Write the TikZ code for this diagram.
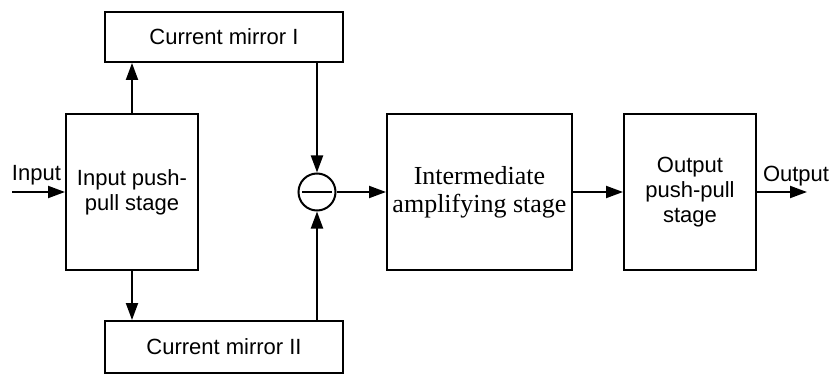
\documentclass[tikz,border=0pt]{standalone}
\usepackage{fontspec}
\setmainfont{Liberation Sans}
\newfontfamily\serifface{Liberation Serif}
\usetikzlibrary{arrows.meta}

\begin{document}
\begin{tikzpicture}[x=1pt, y=-1pt, line width=2pt,
  >={Triangle[length=17pt,width=12pt]},
  blk/.style={draw, line width=2pt, inner sep=0pt, align=center,
    font=\fontsize{22}{25}\selectfont},
  serifblk/.style={blk, font=\serifface\fontsize{26}{28}\selectfont},
  lbl/.style={inner sep=0pt, anchor=base west, font=\fontsize{22}{25}\selectfont}]
\useasboundingbox (0,0) rectangle (832,374);

% blocks
\node[blk, minimum width=238pt, minimum height=50pt] (cm1) at (224,37) {Current mirror I};
\node[blk, minimum width=132pt, minimum height=156pt] (inp) at (132,192) {Input push-\\pull stage};
\node[blk, minimum width=238pt, minimum height=52pt] (cm2) at (224,347) {Current mirror II};
\node[serifblk, minimum width=185pt, minimum height=155pt] (mid) at (479.5,192) {Intermediate\\amplifying stage};
\node[blk, minimum width=132pt, minimum height=155pt] (out) at (690,192) {Output\\push-pull\\stage};

% subtractor
\node[draw, circle, minimum size=37pt, inner sep=0pt] (sub) at (317,192) {};
\draw ([xshift=-15pt]sub.center) -- ([xshift=15pt]sub.center);

% terminals
\coordinate (inStart) at (12,192);
\coordinate (outEnd) at (807,192);
\node[lbl] (inLbl) at (11,181) {Input};
\node[lbl] (outLbl) at (762,182) {Output};

% connectors
\draw[->] (inStart) -- (inp.west);
\draw[->] (inp.north) -- (inp.north |- cm1.south);
\draw[->] (inp.south) -- (inp.south |- cm2.north);
\draw[->] (cm1.south -| sub) -- (sub.north);
\draw[->] (cm2.north -| sub) -- (sub.south);
\draw[->] (sub.east) -- (mid.west);
\draw[->] (mid.east) -- (out.west);
\draw[->] (out.east) -- (outEnd);
\end{tikzpicture}
\end{document}
